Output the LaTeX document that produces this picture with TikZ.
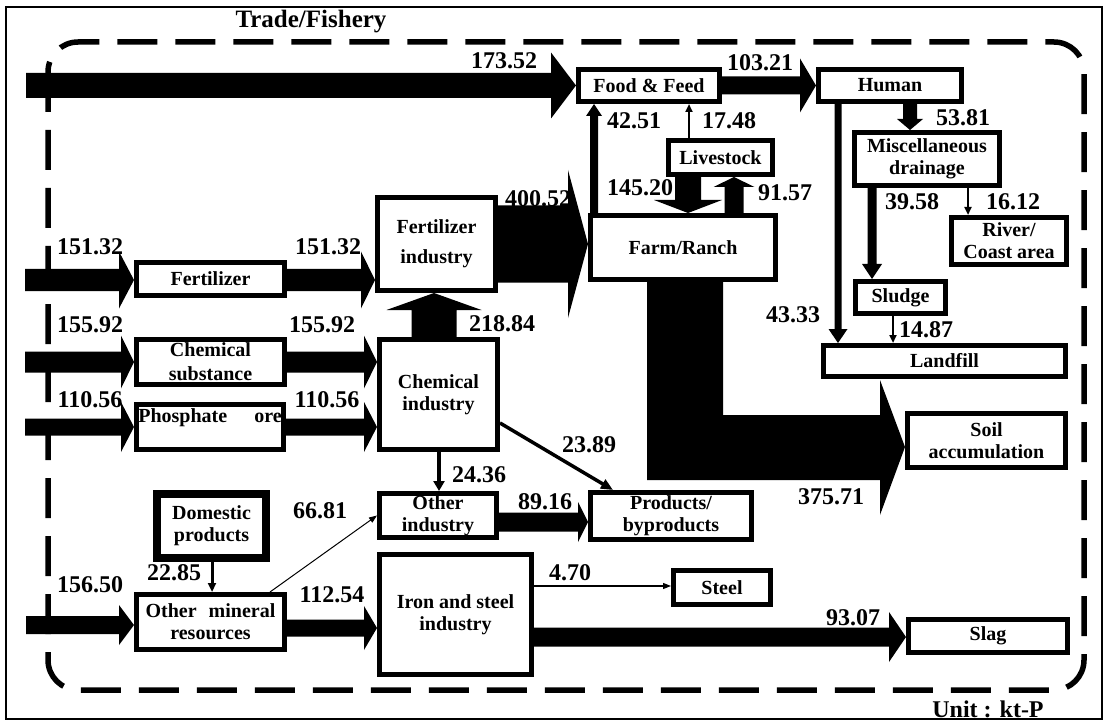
\documentclass[tikz,border=0pt]{standalone}
\usepackage{fontspec}
\setmainfont{Liberation Serif}
\usetikzlibrary{calc,arrows.meta}
\tikzset{
  box/.style={draw, line width=5pt, fill=white, inner sep=0pt, align=center,
    font=\fontsize{20}{22}\selectfont\bfseries},
  num/.style={font=\fontsize{24}{24}\selectfont\bfseries, inner sep=0pt},
  thinarr/.style={line width=2pt, -{Triangle[length=8pt,width=7pt]}},
}
% filled block arrow: #1 start, #2 tip, #3 half band, #4 half head, #5 head length
\newcommand{\fatarrow}[5]{%
  \path (#1) coordinate (fa-a) (#2) coordinate (fa-b);
  \path ($(fa-b)!#5pt!(fa-a)$) coordinate (fa-h);
  \fill ($(fa-a)!#3pt!90:(fa-b)$) -- ($(fa-h)!#3pt!-90:(fa-a)$) -- ($(fa-h)!#4pt!-90:(fa-a)$)
    -- (fa-b) -- ($(fa-h)!#4pt!90:(fa-a)$) -- ($(fa-h)!#3pt!90:(fa-a)$)
    -- ($(fa-a)!#3pt!-90:(fa-b)$) -- cycle;}
\begin{document}
\begin{tikzpicture}[x=1pt,y=-1pt]
\useasboundingbox (0,0) rectangle (1106,722);
\fill[white] (0,0) rectangle (1106,722);
\draw[line width=1.5pt] (6,7) rectangle (1102,719);
\draw[line width=5.5pt, dash pattern=on 40pt off 18pt, rounded corners=30pt] (48,42) rectangle (1084,690);

\node[font=\fontsize{25}{25}\selectfont\bfseries] (title) at (311,22) {Trade/Fishery};
\node[font=\fontsize{24}{24}\selectfont\bfseries] (unit) at (988,709) {Unit : kt-P};

% boxes
\node[box, minimum width=141pt, minimum height=32pt] (food) at (649,85.5) {Food \& Feed};
\node[box, minimum width=143pt, minimum height=32pt] (human) at (890,85.5) {Human};
\node[box, minimum width=104pt, minimum height=34pt] (live) at (720.5,157.5) {Livestock};
\node[box, minimum width=145pt, minimum height=53pt] (misc) at (927,159) {Miscellaneous\\drainage};
\node[box, minimum width=185pt, minimum height=64pt] (farm) at (683,247.5) {Farm/Ranch};
\node[box, minimum width=115pt, minimum height=47pt] (river) at (1009,241) {River/\\Coast area};
\node[box, minimum width=118pt, minimum height=93pt] (fertind) at (436.5,244) {Fertilizer\\[8pt]industry};
\node[box, minimum width=148pt, minimum height=33pt] (fert) at (210.5,279) {Fertilizer};
\node[box, minimum width=148pt, minimum height=45pt] (chemsub) at (210.5,362) {Chemical\\[2pt]substance};
\node[box, minimum width=147pt, minimum height=45pt] (phos) at (210,427) {Phosphate\hspace{27pt}ore\\[0pt]\mbox{}};
\node[box, minimum width=118pt, minimum height=110pt] (chemind) at (438.5,394.5) {Chemical\\industry};
\node[box, minimum width=90pt, minimum height=32pt] (sludge) at (900.5,297.5) {Sludge};
\node[box, minimum width=242pt, minimum height=31pt] (landfill) at (944.5,361) {Landfill};
\node[box, minimum width=158pt, minimum height=54pt] (soil) at (986.5,440.5) {Soil\\accumulation};
\node[box, line width=8pt, minimum width=109pt, minimum height=64pt] (domestic) at (211.5,526) {Domestic\\products};
\node[box, minimum width=148pt, minimum height=55pt] (othermin) at (210.5,622) {Other\hspace{12pt}mineral\\resources};
\node[box, minimum width=117pt, minimum height=44pt] (otherind) at (438,515.5) {Other\\industry};
\node[box, minimum width=161pt, minimum height=47pt] (products) at (671,516) {Products/\\byproducts};
\node[box, minimum width=152pt, minimum height=120pt] (iron) at (455.5,614.5) {Iron and steel\\industry};
\node[box, minimum width=97pt, minimum height=34pt] (steel) at (722,587.5) {Steel};
\node[box, minimum width=159pt, minimum height=33pt] (slag) at (988,636) {Slag};

% value labels
\node[num] (v1) at (504,61) {173.52};
\node[num] (v2) at (760,63) {103.21};
\node[num] (v3) at (634,121) {42.51};
\node[num] (v4) at (729,121) {17.48};
\node[num] (v5) at (640,188) {145.20};
\node[num] (v6) at (785,193) {91.57};
\node[num] (v7) at (963,118) {53.81};
\node[num] (v8) at (912,202) {39.58};
\node[num] (v9) at (1013,202) {16.12};
\node[num] (v10) at (793,315) {43.33};
\node[num] (v11) at (926,330) {14.87};
\node[num] (v12) at (538,199) {400.52};
\node[num] (v13) at (90,247) {151.32};
\node[num] (v14) at (328,247) {151.32};
\node[num] (v15) at (90,325) {155.92};
\node[num] (v16) at (322,325) {155.92};
\node[num] (v17) at (90,400) {110.56};
\node[num] (v18) at (327,400) {110.56};
\node[num] (v19) at (502,324) {218.84};
\node[num] (v20) at (589,445) {23.89};
\node[num] (v21) at (479,475) {24.36};
\node[num] (v22) at (545,502) {89.16};
\node[num] (v23) at (320,511) {66.81};
\node[num] (v24) at (174,573) {22.85};
\node[num] (v25) at (90,585) {156.50};
\node[num] (v26) at (332,595) {112.54};
\node[num] (v27) at (570,573) {4.70};
\node[num] (v28) at (831,497) {375.71};
\node[num] (v29) at (853,618) {93.07};

% free ends of import flows
\coordinate (in1) at (26,85.5);
\coordinate (in2) at (25,280);
\coordinate (in3) at (25,362);
\coordinate (in4) at (25,427);
\coordinate (in5) at (26,625);

% block arrows
\fatarrow{in1}{food.west}{12.5}{33}{25}
\fatarrow{food.east}{human.west}{9}{27}{16}
\fatarrow{farm.north -| 594,0}{food.south -| 594,0}{4}{8}{12}
\draw[thinarr] (live.north -| 689,0) -- (food.south -| 689,0);
\fatarrow{live.south -| 688,0}{farm.north -| 688,0}{13}{34}{13}
\fatarrow{farm.north -| 734,0}{live.south -| 734,0}{9.5}{20.5}{10}
\fatarrow{human.south -| 910,0}{misc.north -| 910,0}{7}{13}{11}
\fatarrow{human.south -| 838,0}{landfill.north -| 838,0}{3.5}{9.5}{14}
\fatarrow{misc.south -| 872,0}{sludge.north -| 872,0}{4.5}{10}{15}
\draw[thinarr] (misc.south -| 968,0) -- (river.north -| 968,0);
\draw[thinarr] (sludge.south -| 893,0) -- (landfill.north -| 893,0);
\fatarrow{fertind.east}{farm.west |- fertind.east}{38.5}{74}{20}
\fatarrow{chemind.north -| 434,0}{fertind.south -| 434,0}{22.5}{47.5}{17}
\fatarrow{in2}{fert.west |- in2}{11}{28.5}{15}
\fatarrow{fert.east |- in2}{fertind.west |- in2}{11}{28.5}{14}
\fatarrow{in3}{chemsub.west}{10.5}{26.5}{13}
\fatarrow{chemsub.east}{chemind.west |- chemsub.east}{10.5}{26.5}{13}
\fatarrow{in4}{phos.west}{8.5}{25}{13}
\fatarrow{phos.east}{chemind.west |- phos.east}{8.5}{25}{13}
\fatarrow{in5}{othermin.west |- in5}{9}{20}{15}
\fatarrow{othermin.east |- 0,628}{iron.west |- 0,628}{8.5}{22}{13}
\fatarrow{otherind.east |- 0,522}{products.west |- 0,522}{9.5}{20}{10}
\fatarrow{iron.east |- 0,637}{slag.west |- 0,637}{9.5}{25}{17}
\draw[line width=1.2pt, -{Triangle[length=8pt,width=6pt]}] (iron.east |- 0,586) -- (steel.west |- 0,586);
\draw[line width=1pt, -{Triangle[length=8pt,width=6pt]}] ($(othermin.north east)+(-17,0)$) -- (otherind.west);
\draw[line width=3pt, -{Triangle[length=9pt,width=8pt]}] (domestic.south -| 212,0) -- (othermin.north -| 212,0);
\draw[line width=4pt, -{Triangle[length=10pt,width=11pt]}] (chemind.south -| 439,0) -- (otherind.north -| 439,0);
\draw[line width=3.5pt, -{Triangle[length=12pt,width=10pt]}] (chemind.east |- 0,423) -- ($(products.north west)+(25,0)$);
% L-shaped flow Farm/Ranch -> Soil accumulation
\fill (farm.south -| 647,0) -- (farm.south -| 723,0) -- (723,415) -- (880,415) -- (880,380)
  -- (soil.west |- 0,447) -- (880,515) -- (880,480) -- (647,480) -- cycle;
\end{tikzpicture}
\end{document}
